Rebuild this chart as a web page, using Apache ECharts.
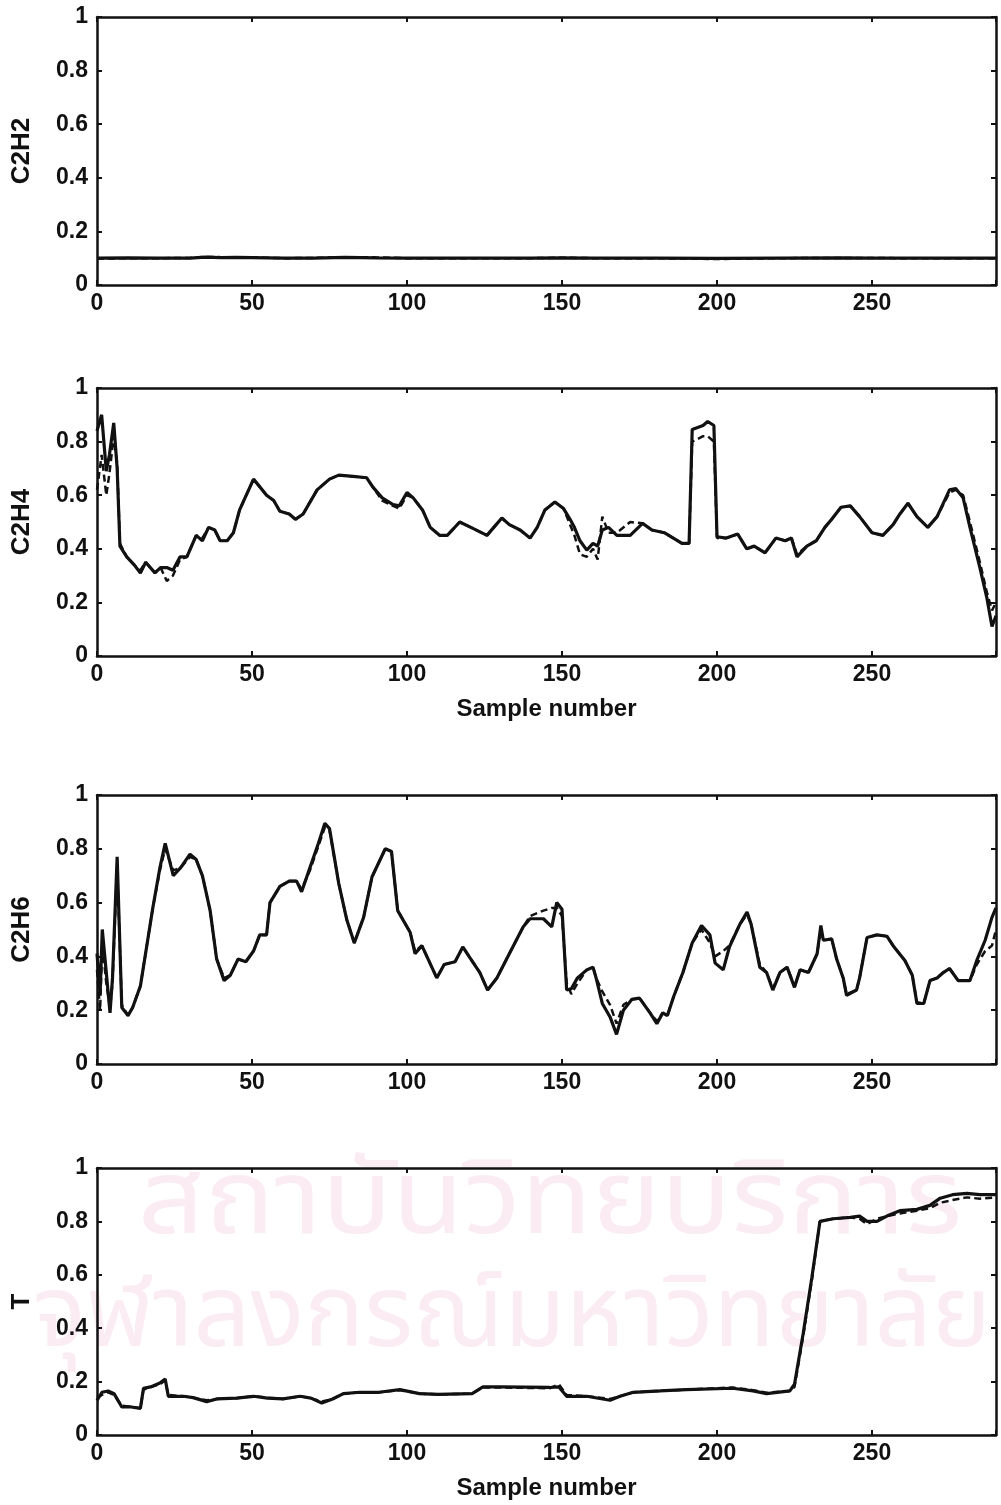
<!DOCTYPE html>
<html>
<head>
<meta charset="utf-8">
<script src="https://cdn.jsdelivr.net/npm/echarts@6/dist/echarts.min.js"></script>
<style>
html,body{margin:0;padding:0;background:#fff;}
#chart{width:1001px;height:1505px;}
</style>
</head>
<body>
<div id="chart"></div>
<script>
// ---------- DATA ----------
const xTicks = [0, 50, 100, 150, 200, 250];
const yTicks = [0, 0.2, 0.4, 0.6, 0.8, 1];
const panelNames = ["C2H2", "C2H4", "C2H6", "T"];

const c2h2X      = [0, 10, 20, 30, 35, 40, 45, 50, 60, 70, 80, 90, 100, 120, 140, 150, 160, 180, 200, 220, 240, 250, 260, 280, 290];
const c2h2Solid  = [0.100, 0.101, 0.100, 0.100, 0.104, 0.102, 0.103, 0.102, 0.100, 0.100, 0.103, 0.101, 0.100, 0.100, 0.100, 0.101, 0.100, 0.100, 0.099, 0.100, 0.101, 0.100, 0.100, 0.100, 0.100];
const c2h2Dashed = [0.098, 0.100, 0.100, 0.101, 0.105, 0.104, 0.104, 0.103, 0.100, 0.101, 0.104, 0.103, 0.100, 0.100, 0.100, 0.102, 0.100, 0.100, 0.097, 0.100, 0.101, 0.101, 0.100, 0.100, 0.100];

const c2h4X = [0, 1.5, 3, 4, 5.4, 6.5, 7.4, 9.6, 12, 14, 15.7, 18.7, 20.5, 22.5, 24.5, 26.8, 29, 32, 34, 36, 38, 39.7, 42, 44, 46, 50.5, 54.7, 57, 59, 62, 64, 66.5, 71, 75, 78, 82.6, 87, 89, 92, 95.5, 97.5, 100, 102, 105, 107.5, 110.6, 113, 117, 120.6, 125.8, 128, 130.6, 133, 136.5, 139.7, 142, 144.5, 147.7, 150.5, 152.6, 154, 155.8, 158, 160, 161.5, 163, 165, 167.7, 172, 176, 179, 183, 188.7, 191, 192, 195.5, 197, 199, 200, 203, 206.7, 209.6, 212, 215.5, 219, 222, 224, 225.8, 229, 232, 234.8, 237, 240, 243, 246, 250, 253.5, 256.8, 259, 261.6, 264.5, 268, 271, 275, 277, 279.4, 281.6, 284.8, 287, 288.7, 290];
const c2h4Solid = [0.84, 0.90, 0.69, 0.75, 0.87, 0.70, 0.41, 0.37, 0.34, 0.31, 0.35, 0.31, 0.33, 0.33, 0.32, 0.37, 0.37, 0.45, 0.43, 0.48, 0.47, 0.43, 0.43, 0.46, 0.545, 0.66, 0.60, 0.58, 0.54, 0.53, 0.51, 0.53, 0.62, 0.66, 0.675, 0.67, 0.665, 0.63, 0.59, 0.565, 0.56, 0.61, 0.59, 0.545, 0.48, 0.45, 0.45, 0.50, 0.48, 0.45, 0.48, 0.515, 0.49, 0.47, 0.44, 0.48, 0.545, 0.575, 0.55, 0.51, 0.48, 0.43, 0.395, 0.42, 0.41, 0.47, 0.48, 0.45, 0.45, 0.495, 0.47, 0.46, 0.42, 0.42, 0.845, 0.86, 0.875, 0.86, 0.445, 0.44, 0.455, 0.40, 0.41, 0.385, 0.44, 0.43, 0.44, 0.37, 0.41, 0.43, 0.48, 0.51, 0.555, 0.56, 0.52, 0.46, 0.45, 0.49, 0.53, 0.57, 0.52, 0.48, 0.52, 0.62, 0.625, 0.59, 0.48, 0.33, 0.22, 0.11, 0.15];
const c2h4Dashed = [0.62, 0.75, 0.60, 0.68, 0.82, 0.72, 0.42, 0.37, 0.34, 0.32, 0.35, 0.31, 0.33, 0.28, 0.30, 0.36, 0.37, 0.45, 0.44, 0.48, 0.47, 0.43, 0.43, 0.46, 0.545, 0.66, 0.60, 0.58, 0.54, 0.53, 0.51, 0.53, 0.62, 0.66, 0.675, 0.67, 0.665, 0.63, 0.58, 0.56, 0.55, 0.60, 0.59, 0.545, 0.48, 0.45, 0.45, 0.50, 0.48, 0.45, 0.48, 0.515, 0.49, 0.47, 0.44, 0.48, 0.545, 0.575, 0.55, 0.49, 0.45, 0.38, 0.37, 0.40, 0.36, 0.52, 0.46, 0.46, 0.50, 0.495, 0.47, 0.46, 0.42, 0.42, 0.80, 0.82, 0.82, 0.80, 0.44, 0.44, 0.455, 0.40, 0.41, 0.385, 0.44, 0.43, 0.44, 0.38, 0.41, 0.43, 0.48, 0.51, 0.555, 0.56, 0.52, 0.46, 0.45, 0.49, 0.53, 0.57, 0.52, 0.48, 0.52, 0.61, 0.62, 0.60, 0.50, 0.35, 0.24, 0.17, 0.20];

const c2h6X = [0, 1, 1.7, 3, 4.2, 5, 6.5, 8, 10, 11.5, 14, 16, 18, 20.3, 22, 24.6, 27, 30, 32, 34, 36.5, 38.6, 41, 43, 45.5, 48, 50.5, 52.5, 54.7, 55.8, 59, 62, 64.4, 66, 68.7, 71.4, 73.5, 75, 78, 80.6, 83, 86, 88.7, 93, 95, 97, 101, 102.6, 104.8, 109.6, 112, 115.5, 118, 120, 123.5, 126, 129, 133, 137.5, 139.7, 144, 146.7, 148.3, 150, 151.5, 153, 155, 158, 160, 161, 163, 165.5, 167.6, 169.8, 172.5, 175, 178.4, 180.6, 182.5, 184, 186, 189, 192, 195, 197.7, 199.4, 202, 204, 207.4, 209.7, 211, 213.8, 216, 218, 220.3, 222.6, 225, 226.8, 229.5, 232.3, 233.5, 234.3, 237, 238.6, 240.7, 241.8, 245, 246, 248.4, 251.6, 254.8, 256.8, 260.6, 263, 264.5, 266.7, 268.7, 271, 273, 275, 277.8, 281.6, 283.8, 286.5, 288.7, 290];
const c2h6Solid = [0.41, 0.26, 0.50, 0.34, 0.19, 0.32, 0.77, 0.21, 0.18, 0.21, 0.29, 0.435, 0.58, 0.73, 0.82, 0.70, 0.73, 0.78, 0.76, 0.70, 0.57, 0.39, 0.31, 0.33, 0.39, 0.38, 0.42, 0.48, 0.48, 0.60, 0.66, 0.68, 0.68, 0.64, 0.73, 0.82, 0.895, 0.875, 0.67, 0.535, 0.45, 0.545, 0.695, 0.80, 0.79, 0.57, 0.49, 0.41, 0.44, 0.32, 0.37, 0.38, 0.435, 0.40, 0.34, 0.275, 0.32, 0.41, 0.51, 0.54, 0.54, 0.51, 0.60, 0.575, 0.275, 0.28, 0.32, 0.35, 0.36, 0.32, 0.225, 0.175, 0.11, 0.20, 0.24, 0.245, 0.19, 0.15, 0.19, 0.18, 0.25, 0.34, 0.45, 0.515, 0.48, 0.375, 0.35, 0.435, 0.52, 0.565, 0.52, 0.36, 0.34, 0.275, 0.34, 0.36, 0.285, 0.35, 0.34, 0.41, 0.515, 0.46, 0.465, 0.39, 0.32, 0.255, 0.275, 0.32, 0.47, 0.48, 0.475, 0.44, 0.385, 0.33, 0.225, 0.225, 0.31, 0.32, 0.34, 0.355, 0.31, 0.31, 0.385, 0.46, 0.545, 0.58];
const c2h6Dashed = [0.35, 0.20, 0.45, 0.30, 0.21, 0.30, 0.74, 0.22, 0.18, 0.21, 0.29, 0.435, 0.58, 0.72, 0.80, 0.72, 0.73, 0.77, 0.76, 0.70, 0.57, 0.39, 0.32, 0.33, 0.39, 0.38, 0.42, 0.48, 0.48, 0.60, 0.66, 0.68, 0.68, 0.65, 0.72, 0.81, 0.88, 0.87, 0.67, 0.535, 0.45, 0.545, 0.695, 0.80, 0.79, 0.57, 0.49, 0.42, 0.44, 0.32, 0.37, 0.38, 0.435, 0.40, 0.34, 0.275, 0.32, 0.41, 0.51, 0.55, 0.57, 0.58, 0.58, 0.55, 0.30, 0.26, 0.30, 0.35, 0.36, 0.32, 0.27, 0.22, 0.15, 0.22, 0.24, 0.245, 0.19, 0.16, 0.19, 0.18, 0.25, 0.34, 0.45, 0.50, 0.45, 0.40, 0.42, 0.44, 0.52, 0.555, 0.52, 0.37, 0.34, 0.28, 0.34, 0.36, 0.29, 0.35, 0.34, 0.41, 0.50, 0.46, 0.465, 0.39, 0.32, 0.26, 0.275, 0.32, 0.47, 0.48, 0.475, 0.44, 0.385, 0.33, 0.23, 0.225, 0.31, 0.32, 0.34, 0.355, 0.31, 0.31, 0.37, 0.42, 0.44, 0.50];

const tX = [0, 1.6, 3.6, 5.5, 8, 11, 14, 15, 17.3, 20.3, 22, 23, 27.9, 31, 35.4, 38.6, 45, 50.5, 55, 60, 65.5, 69, 72.5, 76, 79.5, 84.8, 91, 97.7, 104, 110, 121, 124.5, 130, 146, 149, 151.5, 158, 165.5, 168.7, 173, 181.6, 190, 205, 211.6, 216, 223.5, 225, 227.8, 230.6, 233.2, 237.5, 243, 246, 248.4, 251.6, 254.8, 259, 264.5, 268.7, 272, 276, 280.6, 284.8, 290];
const tSolid  = [0.13, 0.16, 0.165, 0.155, 0.105, 0.105, 0.10, 0.175, 0.18, 0.195, 0.21, 0.145, 0.145, 0.14, 0.125, 0.135, 0.138, 0.145, 0.138, 0.135, 0.145, 0.138, 0.12, 0.135, 0.155, 0.16, 0.16, 0.17, 0.155, 0.152, 0.155, 0.18, 0.18, 0.178, 0.18, 0.145, 0.145, 0.13, 0.145, 0.16, 0.165, 0.17, 0.175, 0.165, 0.155, 0.165, 0.19, 0.38, 0.59, 0.80, 0.81, 0.815, 0.82, 0.80, 0.80, 0.82, 0.84, 0.845, 0.86, 0.887, 0.90, 0.905, 0.90, 0.90];
const tDashed = [0.14, 0.15, 0.16, 0.15, 0.11, 0.105, 0.10, 0.17, 0.18, 0.19, 0.205, 0.15, 0.145, 0.14, 0.13, 0.135, 0.138, 0.145, 0.14, 0.135, 0.145, 0.138, 0.125, 0.135, 0.155, 0.16, 0.16, 0.168, 0.155, 0.152, 0.155, 0.178, 0.178, 0.175, 0.19, 0.15, 0.145, 0.135, 0.145, 0.16, 0.165, 0.17, 0.178, 0.168, 0.158, 0.165, 0.18, 0.37, 0.58, 0.80, 0.81, 0.815, 0.81, 0.79, 0.81, 0.82, 0.83, 0.84, 0.85, 0.87, 0.88, 0.89, 0.885, 0.89];

const watermarkLines = ["สถาบันวิทยบริการ", "จุฬาลงกรณ์มหาวิทยาลัย"];

// ---------- CHART ----------
const panels = [
  {x: c2h2X, s: c2h2Solid, d: c2h2Dashed, top: 17, height: 268, xname: ""},
  {x: c2h4X, s: c2h4Solid, d: c2h4Dashed, top: 388, height: 268, xname: "Sample number"},
  {x: c2h6X, s: c2h6Solid, d: c2h6Dashed, top: 795, height: 269, xname: ""},
  {x: tX, s: tSolid, d: tDashed, top: 1168, height: 267, xname: "Sample number"}
];

const FONT = "'Liberation Sans', Arial, Helvetica, sans-serif";
const INK = "#111";
const zip = (xs, ys) => xs.map((v, i) => [v, ys[i]]);

const grid = [], xAxis = [], yAxis = [], series = [];
panels.forEach((p, i) => {
  grid.push({left: 97, top: p.top, width: 899, height: p.height, containLabel: false});
  const common = {min: 0, max: 290, interval: 50, gridIndex: i, type: 'value', splitLine: {show: false}};
  xAxis.push(Object.assign({}, common, {
    position: 'bottom',
    axisLine: {show: true, onZero: false, lineStyle: {color: INK, width: 2.5}},
    axisTick: {show: true, inside: true, length: 5, lineStyle: {color: INK, width: 2}},
    axisLabel: {show: true, color: INK, fontFamily: FONT, fontWeight: 'bold', fontSize: 23, margin: 7,
      formatter: v => xTicks.includes(v) ? String(v) : ''},
    name: p.xname, nameLocation: 'middle', nameGap: 41,
    nameTextStyle: {color: INK, fontFamily: FONT, fontWeight: 'bold', fontSize: 24}
  }));
  xAxis.push(Object.assign({}, common, {
    position: 'top',
    axisLine: {show: true, onZero: false, lineStyle: {color: INK, width: 2.5}},
    axisTick: {show: true, inside: true, length: 5, lineStyle: {color: INK, width: 2}},
    axisLabel: {show: false}
  }));
  const ycommon = {min: 0, max: 1, interval: 0.2, gridIndex: i, type: 'value', splitLine: {show: false}};
  yAxis.push(Object.assign({}, ycommon, {
    position: 'left',
    axisLine: {show: true, onZero: false, lineStyle: {color: INK, width: 2.5}},
    axisTick: {show: true, inside: true, length: 5, lineStyle: {color: INK, width: 2}},
    axisLabel: {show: true, color: INK, fontFamily: FONT, fontWeight: 'bold', fontSize: 23, margin: 9,
      formatter: v => { const t = yTicks.find(k => Math.abs(k - v) < 1e-6); return t === undefined ? '' : String(t); }},
    name: panelNames[i], nameLocation: 'middle', nameGap: 62, nameRotate: 90,
    nameTextStyle: {color: INK, fontFamily: FONT, fontWeight: 'bold', fontSize: 26}
  }));
  yAxis.push(Object.assign({}, ycommon, {
    position: 'right',
    axisLine: {show: true, onZero: false, lineStyle: {color: INK, width: 2.5}},
    axisTick: {show: true, inside: true, length: 5, lineStyle: {color: INK, width: 2}},
    axisLabel: {show: false}
  }));
  series.push({
    type: 'line', xAxisIndex: 2 * i, yAxisIndex: 2 * i, data: zip(p.x, p.d),
    showSymbol: false, symbol: 'none', silent: true, z: 3,
    lineStyle: {color: INK, width: 2.5, type: [7, 4]}
  });
  series.push({
    type: 'line', xAxisIndex: 2 * i, yAxisIndex: 2 * i, data: zip(p.x, p.s),
    showSymbol: false, symbol: 'none', silent: true, z: 4,
    lineStyle: {color: INK, width: 3.2, type: 'solid'}
  });
});

const WM_FONT = "'Noto Sans Thai', 'Noto Sans', 'DejaVu Sans', sans-serif";
const chart = echarts.init(document.getElementById('chart'), null, {renderer: 'canvas'});
chart.setOption({
  animation: false,
  backgroundColor: '#fff',
  grid, xAxis, yAxis, series,
  graphic: [
    {type: 'text', x: 550, y: 1160, z: -10, silent: true, scaleX: 1.12,
     style: {text: watermarkLines[0], fontSize: 104, fontFamily: WM_FONT, fill: '#fbebf3', align: 'center', verticalAlign: 'top'}},
    {type: 'text', x: 512, y: 1276, z: -10, silent: true,
     style: {text: watermarkLines[1], fontSize: 100, fontFamily: WM_FONT, fill: '#fbebf3', align: 'center', verticalAlign: 'top'}}
  ]
});
</script>
</body>
</html>
